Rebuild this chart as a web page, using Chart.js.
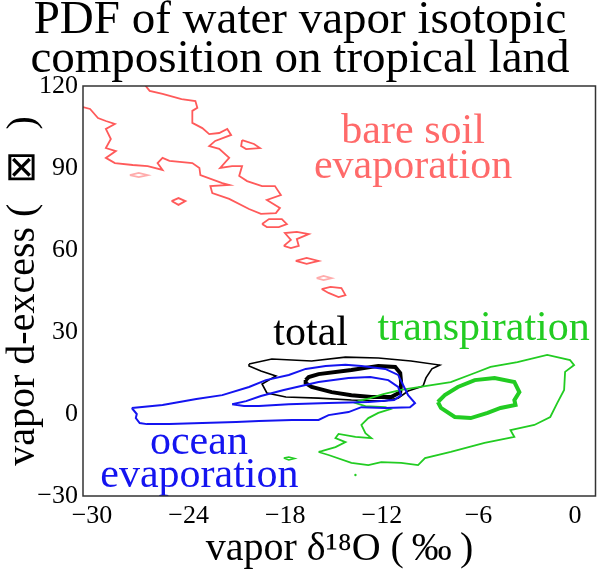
<!DOCTYPE html>
<html>
<head>
<meta charset="utf-8">
<script src="https://cdn.jsdelivr.net/npm/chart.js@4.4.1/dist/chart.umd.min.js"></script>
<style>
  html, body { margin: 0; padding: 0; background: #fff; }
</style>
</head>
<body>
<canvas id="chartPdf" width="600" height="575"></canvas>
<script>
// ticks
const xTicks = [-30, -24, -18, -12, -6, 0];
const yTicks = [-30, 0, 30, 60, 90, 120];

// bare soil evaporation contours [d18O, d-excess]
const soilOuter = [[-30.56,112.3],[-30.12,111.6],[-29.63,108.3],[-29.14,107.2],[-28.58,106.1],[-29.14,104.3],
  [-28.83,100.6],[-29.14,97.3],[-28.52,96.2],[-29.14,93.7],[-28.58,91.8],[-27.47,91.1],[-26.54,90.7],
  [-25.62,89.3],[-25.93,91.8],[-25.62,93.7],[-25.19,92.6],[-23.77,91.8],[-23.33,90.0],[-23.27,87.4],
  [-21.91,84.5],[-21.48,83.8],[-22.65,83.4],[-22.53,80.8],[-21.48,78.7],[-20.25,75.0],[-19.51,73.2],
  [-18.58,73.5],[-18.33,75.4],[-19.14,78.3],[-18.27,80.1],[-18.64,83.4],[-19.44,83.4],[-20.37,85.2],
  [-20.86,87.1],[-20.68,90.7],[-21.30,90.7],[-22.04,90.0],[-21.48,93.7],[-22.10,97.0],[-22.72,98.0],
  [-22.35,99.9],[-21.36,102.1],[-21.60,104.3],[-22.10,102.8],[-22.72,102.4],[-23.15,104.6],[-23.77,106.5],
  [-23.77,110.9],[-23.46,112.0],[-23.58,114.5],[-24.44,115.2],[-25.62,117.1],[-26.42,118.2],[-26.73,120.5]];
const soilLoop1 = [[-20.68,100.2],[-19.94,98.8],[-19.57,97.3],[-20.43,96.9],[-20.74,98.0],[-20.68,100.2]];
const soilLoop2 = [[-25.06,77.9],[-24.63,79.0],[-24.20,77.9],[-24.63,76.5],[-25.06,77.9]];
const soilLoop3 = [[-19.44,69.5],[-19.01,71.3],[-18.21,71.3],[-17.90,69.5],[-18.40,68.4],[-19.14,68.4],[-19.44,69.5]];
const soilLoop4 = [[-18.09,61.5],[-17.65,63.7],[-18.02,66.2],[-17.28,66.6],[-16.54,65.8],[-17.28,64.0],
  [-17.16,61.5],[-17.65,60.7],[-18.09,61.5]];
const soilLoop5 = [[-17.35,56.0],[-16.67,57.1],[-15.93,56.0],[-16.67,54.9],[-17.35,56.0]];
const soilLoop6 = [[-15.74,45.7],[-15.19,46.5],[-14.51,46.1],[-14.26,43.5],[-14.69,42.8],[-15.31,44.3],[-15.74,45.7]];
const soilFaint1 = [[-27.65,87.4],[-27.10,88.2],[-26.54,87.4],[-27.10,86.7],[-27.65,87.4]];
const soilFaint2 = [[-16.05,49.7],[-15.62,50.5],[-15.12,49.7],[-15.62,49.0],[-16.05,49.7]];

// ocean evaporation contours
const oceanOuter = [[-27.53,2.2],[-25.62,3.3],[-23.52,5.5],[-21.91,6.9],[-20.25,9.9],[-19.20,12.4],[-17.78,14.3],
  [-16.73,16.5],[-15.49,17.6],[-14.26,18.0],[-13.27,17.6],[-11.79,16.5],[-10.99,14.3],[-10.68,10.6],
  [-10.37,6.9],[-9.94,4.0],[-10.25,2.5],[-11.79,2.2],[-13.27,2.5],[-14.07,0.7],[-15.31,-0.4],[-15.93,-2.2],
  [-17.59,-2.2],[-19.63,-2.6],[-21.05,-2.9],[-23.15,-3.3],[-25.19,-3.7],[-26.60,-3.7],[-27.04,-3.3],
  [-27.28,-1.5],[-27.22,0.0],[-27.53,2.2]];
const oceanInner = [[-21.30,3.6],[-20.43,4.7],[-19.51,6.6],[-18.09,8.8],[-15.93,11.7],[-14.07,13.2],[-12.72,13.5],
  [-11.60,12.4],[-10.99,9.9],[-10.80,6.9],[-11.23,5.1],[-12.84,4.4],[-15.31,4.0],[-17.78,3.6],[-19.63,2.9],
  [-20.56,2.9],[-21.30,3.6]];

// total contours
const totalOuter = [[-20.25,18.3],[-18.83,20.1],[-16.36,19.4],[-14.26,20.8],[-12.22,20.5],[-10.19,19.4],[-8.40,17.9],
  [-8.89,16.5],[-9.26,13.2],[-9.44,10.2],[-10.37,8.4],[-10.99,5.8],[-11.91,4.7],[-13.89,5.1],[-15.93,5.8],
  [-17.96,6.2],[-19.14,7.7],[-19.44,11.0],[-18.58,13.9],[-19.51,15.7],[-20.25,17.6],[-20.25,18.3]];
const totalInner = [[-16.73,12.4],[-16.54,13.5],[-15.93,14.6],[-13.89,16.1],[-12.22,17.6],[-11.17,17.2],[-10.86,15.0],
  [-10.80,11.3],[-10.86,8.0],[-11.42,6.2],[-12.65,6.2],[-13.89,6.9],[-15.12,8.0],[-16.36,9.9],[-16.73,11.3],
  [-16.73,12.4]];

// transpiration contours
const transOuter = [[-15.93,-13.9],[-15.31,-15.0],[-13.89,-17.9],[-12.84,-18.7],[-12.04,-17.6],[-10.80,-17.9],
  [-9.75,-18.7],[-9.32,-16.1],[-7.72,-13.9],[-5.62,-10.6],[-3.77,-8.4],[-4.01,-5.9],[-2.53,-4.0],[-1.54,-1.1],
  [-1.11,4.0],[-0.68,8.8],[-0.62,15.4],[-0.06,17.9],[-0.31,19.7],[-1.73,21.6],[-3.58,19.0],[-5.25,17.2],
  [-6.23,15.0],[-7.72,11.7],[-9.32,10.2],[-10.80,8.8],[-11.91,7.3],[-12.72,5.8],[-13.46,4.7],[-13.64,4.0],
  [-13.02,2.9],[-11.79,2.5],[-11.48,1.8],[-12.22,0.4],[-12.84,-1.5],[-13.27,-4.0],[-13.02,-7.0],[-12.65,-8.8],
  [-13.64,-8.4],[-14.69,-7.3],[-14.88,-8.8],[-14.26,-10.3],[-14.88,-12.1],[-15.74,-13.6],[-15.93,-13.9]];
const transInner = [[-8.52,4.4],[-8.09,6.9],[-7.28,9.9],[-6.23,12.4],[-5.00,13.2],[-3.77,11.7],[-3.46,8.0],
  [-3.77,5.1],[-3.70,3.3],[-4.63,2.2],[-5.43,0.4],[-6.48,-1.5],[-7.47,-1.1],[-8.33,2.2],[-8.52,4.4]];
const transBlob = [[-18.09,-16.1],[-17.78,-15.7],[-17.41,-16.3],[-17.78,-16.8],[-18.09,-16.1]];
const transDot = [[-13.64,-22.3]];

// labels inside the plot
const noteText = ['bare soil', 'evaporation', 'total', 'transpiration', 'ocean', 'evaporation'];
const noteX = [-10.06, -10.06, -16.42, -5.68, -23.36, -23.33];
const noteY = [99.1, 86.3, 25.2, 27.1, -14.6, -26.7];
const noteColor = ['#ff6a6a', '#ff6a6a', '#000000', '#22cc22', '#1414f0', '#1414f0'];

const titleLines = ['PDF of water vapor isotopic', 'composition on tropical land'];

const SOIL = '#ff5a5a';
const OCEAN = '#1414f0';
const TRANS = '#22cc22';
const SERIF = "'Liberation Serif', serif";

Chart.defaults.font.family = SERIF;

function pts(arr) {
    return arr.map(p => ({ x: p[0], y: p[1] }));
}

function contorno(arr, color, width) {
    return {
        data: pts(arr),
        showLine: true,
        borderColor: color,
        borderWidth: width,
        pointRadius: 0,
        fill: false,
        tension: 0
    };
}

// con un caracter invisible de ancho cero el texto sale en la fuente pedida
const escribir = (ctx, t, x, y) => ctx.fillText(t + '\u200b', x, y);

const boxYNotas = {
    id: 'boxYNotas',
    afterDatasetsDraw(chart) {
        const { ctx, chartArea: a, scales } = chart;
        ctx.save();
        ctx.font = '42px ' + SERIF;
        ctx.textAlign = 'center';
        ctx.textBaseline = 'alphabetic';
        noteText.forEach((t, i) => {
            ctx.fillStyle = noteColor[i];
            escribir(ctx, t, scales.x.getPixelForValue(noteX[i]), scales.y.getPixelForValue(noteY[i]));
        });
        ctx.fillStyle = '#000';
        ctx.font = '47px ' + SERIF;
        titleLines.forEach((t, i) => escribir(ctx, t, 300, 33 + i * 39));
        ctx.strokeStyle = '#333';
        ctx.lineWidth = 1.5;
        ctx.strokeRect(a.left, a.top, a.right - a.left - 0.5, a.bottom - a.top);
        ctx.restore();
    }
};

const menos = v => (v < 0 ? '\u2212' + Math.abs(v) : String(v));

new Chart(document.getElementById('chartPdf').getContext('2d'), {
    type: 'scatter',
    data: {
        datasets: [
            contorno(soilOuter, SOIL, 1.8),
            contorno(soilLoop1, SOIL, 1.8),
            contorno(soilLoop2, SOIL, 1.8),
            contorno(soilLoop3, SOIL, 1.8),
            contorno(soilLoop4, SOIL, 1.8),
            contorno(soilLoop5, SOIL, 1.8),
            contorno(soilLoop6, SOIL, 1.8),
            contorno(soilFaint1, 'rgba(255,90,90,0.5)', 1.8),
            contorno(soilFaint2, 'rgba(255,90,90,0.5)', 1.8),
            contorno(oceanOuter, OCEAN, 2),
            contorno(oceanInner, OCEAN, 2),
            contorno(transOuter, TRANS, 1.8),
            contorno(transInner, TRANS, 4),
            contorno(transBlob, TRANS, 1.5),
            { data: pts(transDot), showLine: false, pointRadius: 1.2, backgroundColor: TRANS, borderWidth: 0 },
            contorno(totalOuter, '#000', 1.6),
            contorno(totalInner, '#000', 4)
        ]
    },
    options: {
        responsive: false,
        animation: false,
        devicePixelRatio: 1,
        layout: { padding: { top: 86, right: 1, bottom: 0, left: 0 } },
        plugins: {
            legend: { display: false },
            tooltip: { enabled: false },
            title: { display: false }
        },
        scales: {
            x: {
                type: 'linear',
                min: -30.56,
                max: 1.3,
                afterBuildTicks: s => { s.ticks = xTicks.map(v => ({ value: v })); },
                afterFit: s => { s.height = 79; },
                grid: { display: false, drawTicks: false },
                border: { display: false },
                ticks: { color: '#000', padding: 5, font: { family: SERIF, size: 26 }, callback: menos },
                title: {
                    display: true,
                    text: 'vapor \u03b4\u00b9\u2078O (\u2009\u2030\u2009)',
                    color: '#000',
                    font: { family: SERIF, size: 40, lineHeight: 1.2 },
                    padding: { top: 0, bottom: 2 }
                }
            },
            y: {
                type: 'linear',
                min: -30,
                max: 120,
                afterBuildTicks: s => { s.ticks = yTicks.map(v => ({ value: v })); },
                afterFit: s => { s.width = 83; },
                grid: { display: false, drawTicks: false },
                border: { display: false },
                ticks: { color: '#000', padding: 5, font: { family: SERIF, size: 26 }, callback: menos },
                title: {
                    display: true,
                    text: 'vapor d-excess (\u2002\u22a0\u2002)',
                    color: '#000',
                    font: { family: SERIF, size: 40, lineHeight: 1.2 },
                    padding: { top: -1, bottom: 0 }
                }
            }
        }
    },
    plugins: [boxYNotas]
});
</script>
</body>
</html>
